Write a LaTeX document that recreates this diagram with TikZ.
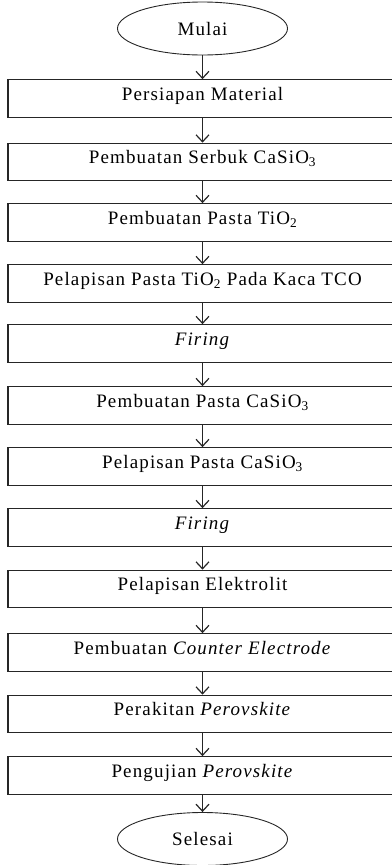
\documentclass[tikz,border=0pt]{standalone}
\usepackage{fontspec}
\setmainfont{Liberation Serif}[LetterSpace=6]
\usetikzlibrary{arrows.meta,shapes.geometric}
\begin{document}
\begin{tikzpicture}[x=1pt,y=-1pt,
  stepbox/.style={draw=black!85, line width=1.2pt, minimum width=389pt, minimum height=37.5pt,
    inner sep=0pt, text height=12.5pt, text depth=9pt, font=\fontsize{19}{21}\selectfont},
  term/.style={draw=black!85, ellipse, line width=0.9pt, minimum width=170pt, minimum height=53pt,
    inner sep=0pt, font=\fontsize{19}{21}\selectfont},
  flow/.style={-{Straight Barb[length=7pt,width=13pt]}, line width=1.2pt, black!85}]
\useasboundingbox (0,0) rectangle (391,865);
\node[term] (start) at (202.5,28.5) {Mulai};
\node[stepbox] (b1) at (202.5,98.5) {Persiapan Material};
\node[stepbox] (b2) at (202.5,162) {Pembuatan Serbuk CaSiO\textsubscript{3}};
\node[stepbox] (b3) at (202.5,222.5) {Pembuatan Pasta TiO\textsubscript{2}};
\node[stepbox] (b4) at (202.5,283.5) {Pelapisan Pasta TiO\textsubscript{2} Pada Kaca TCO};
\node[stepbox] (b5) at (202.5,343.5) {\textit{Firing}};
\node[stepbox] (b6) at (202.5,405.5) {Pembuatan Pasta CaSiO\textsubscript{3}};
\node[stepbox] (b7) at (202.5,466.5) {Pelapisan Pasta CaSiO\textsubscript{3}};
\node[stepbox] (b8) at (202.5,527.5) {\textit{Firing}};
\node[stepbox] (b9) at (202.5,589) {Pelapisan Elektrolit};
\node[stepbox] (b10) at (202.5,652.5) {Pembuatan \textit{Counter Electrode}};
\node[stepbox] (b11) at (202.5,714) {Perakitan \textit{Perovskite}};
\node[stepbox] (b12) at (202.5,775.5) {Pengujian \textit{Perovskite}};
\node[term] (end) at (202.5,839) {Selesai};
\draw[flow] (start) -- (b1);
\draw[flow] (b1) -- (b2);
\draw[flow] (b2) -- (b3);
\draw[flow] (b3) -- (b4);
\draw[flow] (b4) -- (b5);
\draw[flow] (b5) -- (b6);
\draw[flow] (b6) -- (b7);
\draw[flow] (b7) -- (b8);
\draw[flow] (b8) -- (b9);
\draw[flow] (b9) -- (b10);
\draw[flow] (b10) -- (b11);
\draw[flow] (b11) -- (b12);
\draw[flow] (b12) -- (end);
\end{tikzpicture}
\end{document}
